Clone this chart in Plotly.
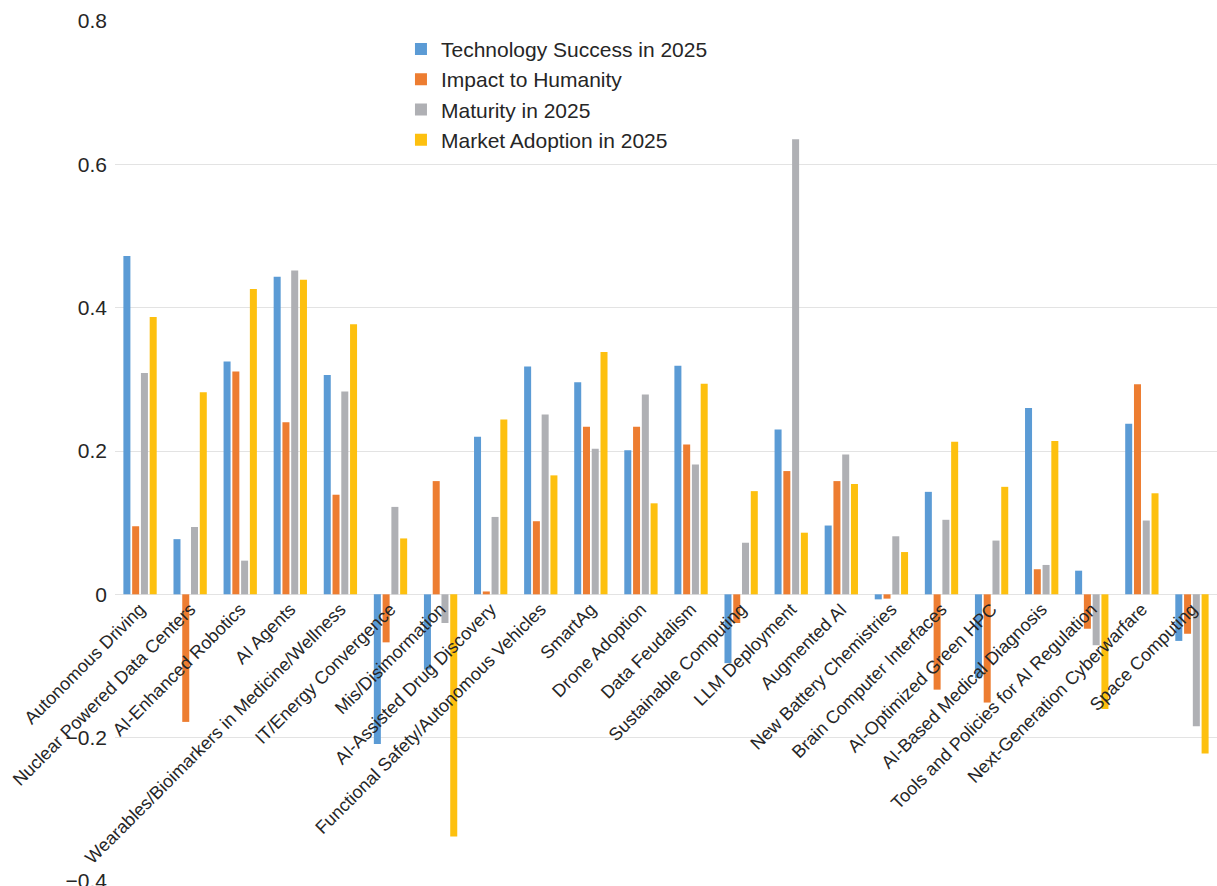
import plotly.graph_objects as go

# Technology trend categories
categories = [
    "Autonomous Driving",
    "Nuclear Powered Data Centers",
    "AI-Enhanced Robotics",
    "AI Agents",
    "Wearables/Bioimarkers in Medicine/Wellness",
    "IT/Energy Convergence",
    "Mis/Disimormation",
    "AI-Assisted Drug Discovery",
    "Functional Safety/Autonomous Vehicles",
    "SmartAg",
    "Drone Adoption",
    "Data Feudalism",
    "Sustainable Computing",
    "LLM Deployment",
    "Augmented AI",
    "New Battery Chemistries",
    "Brain Computer Interfaces",
    "AI-Optimized Green HPC",
    "AI-Based Medical Diagnosis",
    "Tools and Policies for AI Regulation",
    "Next-Generation Cyberwarfare",
    "Space Computing",
]

technology_success = [0.472, 0.077, 0.325, 0.443, 0.306, -0.209, -0.105, 0.220, 0.318, 0.296,
                      0.201, 0.319, -0.096, 0.230, 0.096, -0.007, 0.143, -0.117, 0.260, 0.033,
                      0.238, -0.065]
impact_to_humanity = [0.095, -0.178, 0.311, 0.240, 0.139, -0.067, 0.158, 0.004, 0.102, 0.234,
                      0.234, 0.209, -0.040, 0.172, 0.158, -0.006, -0.133, -0.151, 0.035, -0.048,
                      0.293, -0.055]
maturity = [0.309, 0.094, 0.047, 0.452, 0.283, 0.122, -0.040, 0.108, 0.251, 0.203,
            0.279, 0.181, 0.072, 0.635, 0.195, 0.081, 0.104, 0.075, 0.041, -0.071,
            0.103, -0.184]
market_adoption = [0.387, 0.282, 0.426, 0.439, 0.377, 0.078, -0.338, 0.244, 0.166, 0.338,
                   0.127, 0.294, 0.144, 0.086, 0.154, 0.059, 0.213, 0.150, 0.214, -0.160,
                   0.141, -0.222]

series_names = [
    "Technology Success in 2025",
    "Impact to Humanity",
    "Maturity in 2025",
    "Market Adoption in 2025",
]
series_values = [technology_success, impact_to_humanity, maturity, market_adoption]
series_colors = ["#5B9BD5", "#ED7D31", "#AFB0B4", "#FDC00F"]

y_tick_values = [0.8, 0.6, 0.4, 0.2, 0, -0.2, -0.4]
y_tick_labels = ["0.8", "0.6", "0.4", "0.2", "0", "\u22120.2", "\u22120.4"]

FONT = "Liberation Sans, Arial, Helvetica, sans-serif"
TEXT_COLOR = "#262626"
GRID_COLOR = "#E3E3E3"

fig = go.Figure()
for name, values, color in zip(series_names, series_values, series_colors):
    fig.add_trace(go.Bar(
        name=name,
        x=categories,
        y=values,
        marker=dict(color=color, line=dict(width=0)),
    ))

fig.update_layout(
    width=1217,
    height=886,
    margin=dict(l=115, r=0, t=21, b=5),
    paper_bgcolor="white",
    plot_bgcolor="white",
    barmode="group",
    bargap=0.3,
    bargroupgap=0.2,
    font=dict(family=FONT, color=TEXT_COLOR),
    legend=dict(
        x=0.2595,
        y=0.991,
        xanchor="left",
        yanchor="top",
        font=dict(family=FONT, size=21, color=TEXT_COLOR),
        bgcolor="rgba(0,0,0,0)",
        itemwidth=30,
        tracegroupgap=0,
    ),
    showlegend=True,
)

# Category labels sit on the zero line (one third up from the bottom of the range)
fig.update_xaxes(
    anchor="free",
    position=1 / 3,
    range=[-0.5, len(categories) - 0.5],
    tickangle=-45,
    tickfont=dict(family=FONT, size=18, color=TEXT_COLOR),
    ticks="",
    showline=False,
    showgrid=False,
    zeroline=False,
    automargin=False,
)

fig.update_yaxes(
    range=[-0.4, 0.8],
    tickvals=y_tick_values,
    ticktext=y_tick_labels,
    tickfont=dict(family=FONT, size=21, color=TEXT_COLOR),
    ticks="",
    ticklabelstandoff=7,
    ticklabeloverflow="allow",
    showgrid=True,
    gridcolor=GRID_COLOR,
    gridwidth=1.2,
    zeroline=True,
    zerolinecolor=GRID_COLOR,
    zerolinewidth=1.2,
    showline=False,
    automargin=False,
)

fig.write_html("out.html")
